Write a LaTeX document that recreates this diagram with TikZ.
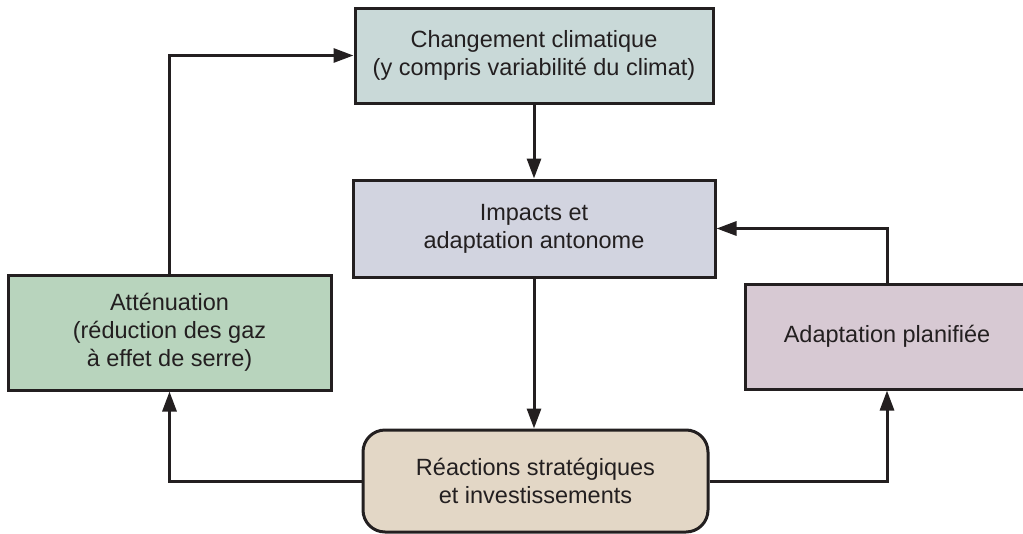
\documentclass[tikz,border=0pt]{standalone}
\usepackage{fontspec}
\setmainfont{Liberation Sans}
\usetikzlibrary{arrows.meta}
\definecolor{cInk}{HTML}{231F20}
\definecolor{cClim}{HTML}{C9D9D8}
\definecolor{cImpact}{HTML}{D2D4E0}
\definecolor{cAttn}{HTML}{B8D4BD}
\definecolor{cAdapt}{HTML}{D7C9D3}
\definecolor{cReact}{HTML}{E3D7C6}
\begin{document}
\begin{tikzpicture}[x=1pt,y=-1pt,
  boite/.style={draw=cInk, line width=3pt, align=center, text=cInk,
    font=\fontsize{23.5}{28}\selectfont, inner sep=0pt},
  fleche/.style={draw=cInk, line width=3pt, -{Triangle[length=20pt,width=14pt]}}]
\useasboundingbox (0,0) rectangle (1023,533);

\coordinate (cClimPt) at (534, 55.5);
\coordinate (cImpactPt) at (534, 228.5);
\coordinate (cAttnPt) at (169.5, 332.5);
\coordinate (cAdaptPt) at (887, 336.5);
\coordinate (cReactPt) at (535.5, 481);

\node[boite, fill=cClim, minimum width=358pt, minimum height=95pt] (nClim) at (cClimPt)
  {Changement climatique\\(y compris variabilité du climat)};
\node[boite, fill=cImpact, minimum width=362pt, minimum height=97pt] (nImpact) at (cImpactPt)
  {Impacts et\\adaptation antonome};
\node[boite, fill=cAttn, minimum width=323pt, minimum height=115pt] (nAttn) at (cAttnPt)
  {Atténuation\\(réduction des gaz\\à effet de serre)};
\node[boite, fill=cAdapt, minimum width=284pt, minimum height=105pt] (nAdapt) at (cAdaptPt)
  {Adaptation planifiée};
\node[boite, fill=cReact, rounded corners=22pt, minimum width=345pt, minimum height=102pt] (nReact) at (cReactPt)
  {Réactions stratégiques\\et investissements};

\draw[fleche] (nAttn.north) |- (nClim.west);
\draw[fleche] (nClim.south) -- (nImpact.north);
\draw[fleche] (nImpact.south) -- (nImpact.south |- nReact.north);
\draw[fleche] (nReact.west) -| (nAttn.south);
\draw[fleche] (nReact.east) -| (nAdapt.south);
\draw[fleche] (nAdapt.north) |- (nImpact.east);

\end{tikzpicture}
\end{document}
